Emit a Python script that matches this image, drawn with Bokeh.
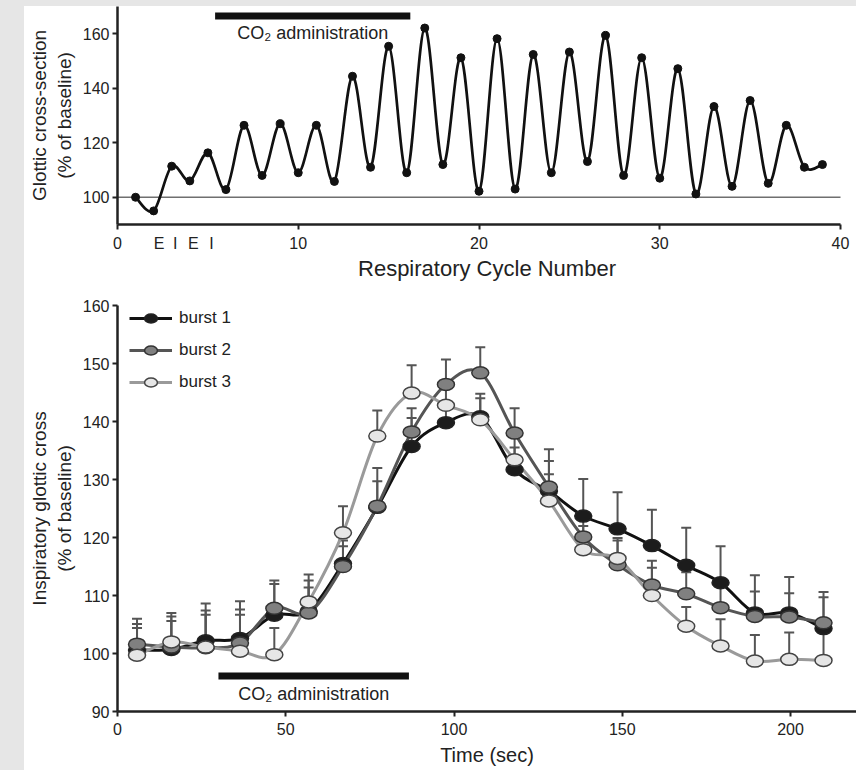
import numpy as np
from bokeh.plotting import figure
from bokeh.models import Range1d, FixedTicker, Label, Legend, LegendItem, Div
from bokeh.layouts import column, row
from bokeh.embed import file_html
from bokeh.resources import INLINE

# ---------------- data: top panel ----------------
cycle_number = list(range(1, 40))
glottic_cross_section = [100, 95, 111.4, 106, 116.3, 102.8, 126.4, 108, 127, 109,
                         126.4, 105.8, 144.4, 111, 155.4, 109, 162.1, 112, 151.2, 102.2,
                         158.2, 103, 152.4, 109, 153.3, 113.1, 159.4, 108, 151.2, 107,
                         147.2, 101.2, 133.3, 104, 135.5, 105.1, 126.4, 111, 112]
cycle_ticks = [0, 10, 20, 30, 40]
top_y_ticks = [100, 120, 140, 160]
phase_labels = ["E", "I", "E", "I"]
phase_positions = [2.3, 3.2, 4.2, 5.2]
co2_cycles = [5.4, 16.2]
baseline_value = 100

# ---------------- data: bottom panel ----------------
time_sec = [5.8, 16.0, 26.2, 36.4, 46.6, 56.8, 67.0, 77.2, 87.4, 97.6, 107.8,
            118.0, 128.2, 138.4, 148.6, 158.8, 169.0, 179.2, 189.4, 199.6, 209.8]
burst1_mean = [100.6, 100.7, 102.2, 102.6, 106.6, 107.3, 115.5, 125.2, 135.7, 139.8, 140.8,
               131.7, 128.0, 123.7, 121.5, 118.6, 115.2, 112.2, 107.0, 107.0, 104.3]
burst1_upper = [105.1, 106.4, 107.4, 107.6, 112.0, 112.6, 119.5, 129.7, 140.6, 142.8, 144.8,
                135.5, 133.2, 130.1, 127.8, 124.8, 121.7, 118.5, 113.5, 113.2, 109.7]
burst2_mean = [101.6, 101.1, 101.0, 101.8, 107.8, 107.0, 115.0, 125.4, 138.2, 146.4, 148.4,
               138.0, 128.7, 120.1, 115.3, 111.8, 110.3, 107.9, 106.4, 106.3, 105.3]
burst2_upper = [106.0, 107.0, 108.6, 109.0, 112.6, 113.6, 118.5, 132.0, 142.3, 150.7, 152.8,
                142.3, 135.2, 124.0, 119.9, 116.0, 114.0, 113.0, 110.7, 110.4, 110.6]
burst3_mean = [99.7, 102.0, 101.1, 100.4, 99.8, 108.9, 120.8, 137.5, 144.9, 142.8, 140.3,
               133.4, 126.3, 117.9, 116.4, 110.0, 104.7, 101.3, 98.7, 99.0, 98.8]
burst3_upper = [104.4, 105.6, 106.7, 106.7, 104.4, 111.4, 125.4, 141.9, 149.7, 146.0, 144.0,
                137.5, 130.9, 122.0, 119.5, 114.8, 108.0, 105.9, 103.2, 103.6, 104.0]
time_ticks = [0, 50, 100, 150, 200]
bottom_y_ticks = [90, 100, 110, 120, 130, 140, 150, 160]
co2_time = [30, 86.6]
series_names = ["burst 1", "burst 2", "burst 3"]

FONT = "Liberation Sans"
TXT = "#222222"
GRAY_BG = "#e6e6e6"


def smooth_segments(xs, ys):
    """Catmull-Rom curve through the points, expressed as cubic Bezier segments."""
    x = np.asarray(xs, float)
    y = np.asarray(ys, float)
    n = len(x)
    xp = np.concatenate([[x[0]], x, [x[-1]]])
    yp = np.concatenate([[y[0]], y, [y[-1]]])
    cx0 = x[:-1] + (xp[2:n + 1] - xp[0:n - 1]) / 6.0
    cy0 = y[:-1] + (yp[2:n + 1] - yp[0:n - 1]) / 6.0
    cx1 = x[1:] - (xp[3:n + 2] - xp[1:n]) / 6.0
    cy1 = y[1:] - (yp[3:n + 2] - yp[1:n]) / 6.0
    return dict(x0=x[:-1], y0=y[:-1], x1=x[1:], y1=y[1:], cx0=cx0, cy0=cy0, cx1=cx1, cy1=cy1)


def style_axes(p):
    for ax in list(p.xaxis) + list(p.yaxis):
        ax.axis_line_width = 2.5
        ax.axis_line_color = "#222222"
        ax.major_tick_line_color = "#222222"
        ax.major_tick_line_width = 2
        ax.major_tick_out = 5
        ax.major_tick_in = 0
        ax.minor_tick_line_color = None
        ax.major_label_text_font = FONT
        ax.major_label_text_font_size = "16px"
        ax.major_label_text_color = TXT
        ax.axis_label_text_font = FONT
        ax.axis_label_text_font_style = "normal"
        ax.axis_label_text_color = TXT
    p.grid.visible = False
    p.outline_line_color = None


# ---------------- top panel ----------------
p1 = figure(width=832, height=279, output_backend="svg", toolbar_location=None,
            x_range=Range1d(0, 40.885), y_range=Range1d(90, 170),
            min_border_left=93, min_border_right=0, min_border_top=0, min_border_bottom=61)
style_axes(p1)
# numeric cycle labels plus the E / I phase labels on the same axis;
# visible tick marks only at the numeric positions
label_ticks = cycle_ticks + phase_positions
p1.xaxis.ticker = FixedTicker(ticks=sorted(label_ticks), minor_ticks=cycle_ticks)
p1.xaxis.major_label_overrides = {pos: lab for pos, lab in zip(phase_positions, phase_labels)}
p1.xaxis.bounds = (cycle_ticks[0], cycle_ticks[-1])
p1.xaxis.major_tick_line_color = None
p1.xaxis.minor_tick_line_color = "#222222"
p1.xaxis.minor_tick_line_width = 2
p1.xaxis.minor_tick_out = 5
p1.xaxis.minor_tick_in = 0
p1.yaxis.ticker = FixedTicker(ticks=top_y_ticks)
p1.xaxis.axis_label = "Respiratory Cycle Number"
p1.xaxis.axis_label_text_font_size = "22px"
p1.xaxis.major_label_standoff = 5
p1.xaxis.axis_label_standoff = 1
p1.yaxis.axis_label = "Glottic cross-section\n(% of baseline)"
p1.yaxis.axis_label_text_font_size = "19px"
p1.yaxis.major_label_standoff = 3
p1.yaxis.axis_label_standoff = 5

# baseline (100 %) reference line across the cycle axis
p1.line(x=[cycle_ticks[0], cycle_ticks[-1]], y=[baseline_value, baseline_value],
        line_color="#6f6f6f", line_width=1.5)
p1.bezier(line_color="#111111", line_width=2.7, **smooth_segments(cycle_number, glottic_cross_section))
p1.scatter(cycle_number, glottic_cross_section, size=8, color="#111111")
p1.segment(x0=[co2_cycles[0]], y0=[166.5], x1=[co2_cycles[1]], y1=[166.5],
           line_width=7, line_color="#111111", line_cap="butt")
p1.add_layout(Label(x=(co2_cycles[0] + co2_cycles[1]) / 2, y=160.1, text="CO₂ administration",
                    text_align="center", text_baseline="middle", text_font=FONT,
                    text_font_size="18px", text_color=TXT))

# ---------------- bottom panel ----------------
p2 = figure(width=832, height=485, output_backend="svg", toolbar_location=None,
            x_range=Range1d(0, 219.6), y_range=Range1d(90, 160),
            min_border_left=93, min_border_right=0, min_border_top=20, min_border_bottom=59)
style_axes(p2)
p2.xaxis.ticker = FixedTicker(ticks=time_ticks)
p2.yaxis.ticker = FixedTicker(ticks=bottom_y_ticks)
p2.xaxis.axis_label = "Time (sec)"
p2.xaxis.axis_label_text_font_size = "20px"
p2.xaxis.major_label_standoff = 6
p2.xaxis.axis_label_standoff = 6
p2.yaxis.axis_label = "Inspiratory glottic cross\n(% of baseline)"
p2.yaxis.axis_label_text_font_size = "19px"
p2.yaxis.major_label_standoff = 3
p2.yaxis.axis_label_standoff = 5

means = [burst1_mean, burst2_mean, burst3_mean]
uppers = [burst1_upper, burst2_upper, burst3_upper]
line_colors = ["#111111", "#555555", "#9a9a9a"]
fill_colors = ["#1c1c1c", "#808080", "#e6e6e6"]
edge_colors = ["#222222", "#333333", "#444444"]

for m, u in zip(means, uppers):
    p2.segment(x0=time_sec, y0=m, x1=time_sec, y1=u, line_color="#555555", line_width=2)
    p2.scatter(time_sec, u, marker="dash", size=10, line_color="#555555", line_width=2)

line_renderers = []
for m, lc in zip(means, line_colors):
    r = p2.bezier(line_color=lc, line_width=3, **smooth_segments(time_sec, m))
    line_renderers.append(r)

ell_renderers = []
for m, fc, ec in zip(means, fill_colors, edge_colors):
    r = p2.ellipse(x=time_sec, y=m, width=17, height=12, width_units="screen",
                   height_units="screen", fill_color=fc, line_color=ec, line_width=1.5)
    ell_renderers.append(r)

p2.segment(x0=[co2_time[0]], y0=[96.1], x1=[co2_time[1]], y1=[96.1],
           line_width=7, line_color="#111111", line_cap="butt")
p2.add_layout(Label(x=(co2_time[0] + co2_time[1]) / 2, y=93.1, text="CO₂ administration",
                    text_align="center", text_baseline="middle", text_font=FONT,
                    text_font_size="18px", text_color=TXT))

items = [LegendItem(label=name, renderers=[lr, er])
         for name, lr, er in zip(series_names, line_renderers, ell_renderers)]
legend = Legend(items=items, location=(12, 319), glyph_width=43, glyph_height=16,
                label_height=20, spacing=12, padding=0, margin=0, border_line_color=None,
                background_fill_alpha=0, label_text_font=FONT, label_text_font_size="17px",
                label_text_color=TXT, label_standoff=7)
p2.add_layout(legend)

left_strip = Div(width=24, height=770, margin=(0, 0, 0, 0),
                 styles={"background-color": GRAY_BG})
top_strip = Div(width=832, height=6, margin=(0, 0, 0, 0),
                styles={"background-color": GRAY_BG})
layout = row(left_strip, column(top_strip, p1, p2, spacing=0), spacing=0)

open("out.html", "w").write(file_html(layout, INLINE))
